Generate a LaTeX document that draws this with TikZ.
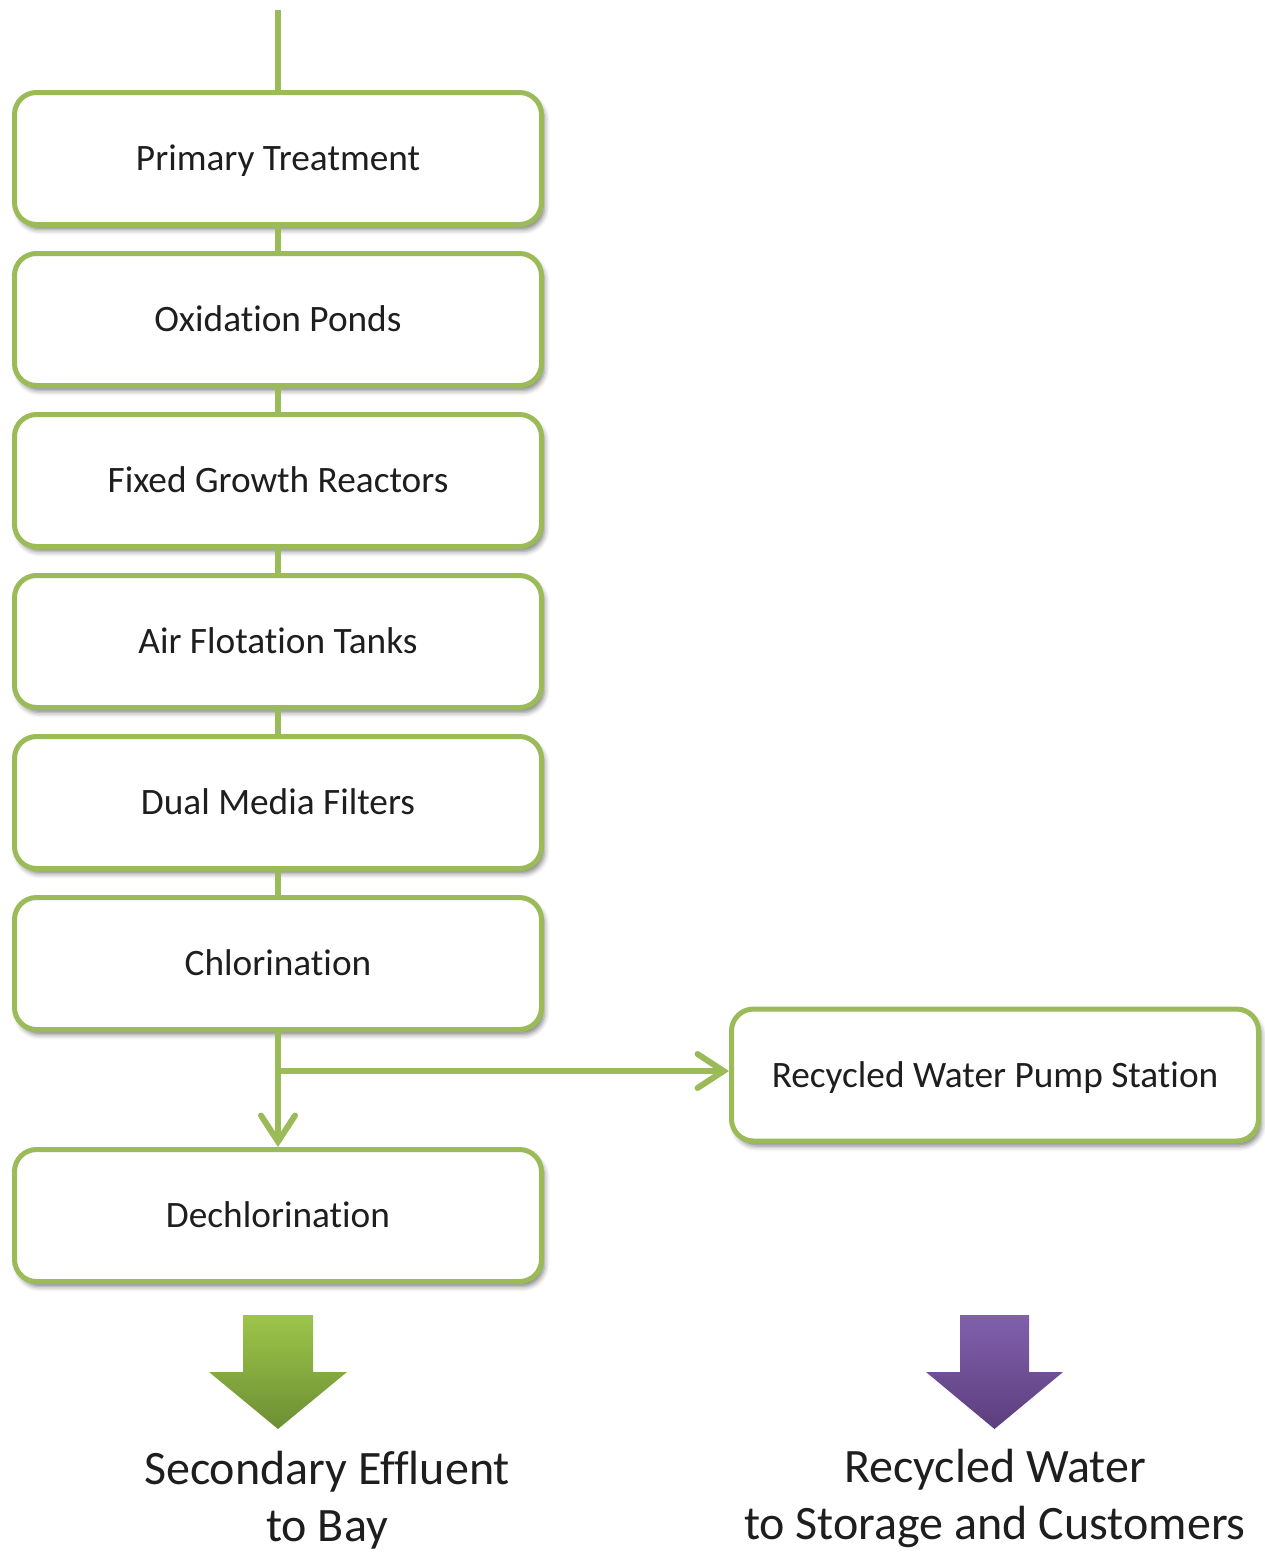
\documentclass[tikz,border=0pt]{standalone}
\usepackage{fontspec}
\setmainfont[Ligatures=NoCommon]{Carlito}
\usetikzlibrary{arrows.meta,shadows.blur}
\definecolor{leaf}{HTML}{9BBB59}
\definecolor{leafTop}{HTML}{9DC54A}
\definecolor{leafBot}{HTML}{6C8E34}
\definecolor{plumTop}{HTML}{8160AC}
\definecolor{plumBot}{HTML}{5C3E7E}
\definecolor{ink}{HTML}{1E1E1E}
\tikzset{
  stage/.style={draw=leaf, line width=5pt, fill=white, rounded corners=22pt,
    minimum width=527pt, minimum height=132pt, inner sep=0pt,
    text height=24pt, text depth=0pt,
    font=\fontsize{37.3}{40}\selectfont, text=ink,
    blur shadow={shadow xshift=3pt, shadow yshift=-5pt, shadow blur radius=5pt, shadow opacity=50}},
  pipe/.style={draw=leaf, line width=6pt},
  flow/.style={pipe, -{Straight Barb[length=26pt, width=34pt, line width=6pt, line cap=round]}},
  outlabel/.style={font=\fontsize{48}{57}\selectfont, text=ink, align=center}
}
\begin{document}
\begin{tikzpicture}[x=1pt, y=-1pt]
  \useasboundingbox (0,0) rectangle (1265,1553);

  % treatment stages
  \node[stage] (primary) at (278,158.5) {Primary Treatment};
  \node[stage] (oxid)    at (278,319.5) {Oxidation Ponds};
  \node[stage] (fixed)   at (278,480.5) {Fixed Growth Reactors};
  \node[stage] (air)     at (278,641.5) {Air Flotation Tanks};
  \node[stage] (dual)    at (278,802.5) {Dual Media Filters};
  \node[stage] (chlor)   at (278,963.5) {Chlorination};
  \node[stage] (dechlor) at (278,1215.5) {Dechlorination};
  \node[stage] (pump)    at (995,1075) {Recycled Water Pump Station};

  % influent line and connections between stages
  \coordinate (inlet) at (278,10);
  \draw[pipe] (inlet) -- (primary.north);
  \draw[pipe] (primary) -- (oxid);
  \draw[pipe] (oxid.south) -- (fixed.north);
  \draw[pipe] (fixed.south) -- (air.north);
  \draw[pipe] (air.south) -- (dual.north);
  \draw[pipe] (dual.south) -- (chlor.north);

  % split after chlorination
  \coordinate (split) at (278,1071);
  \draw[flow] (chlor.south) -- (dechlor.north);
  \draw[flow] (split) -- (split -| pump.west);

  % outlet arrows
  \shade[top color=leafTop, bottom color=leafBot]
    (243,1315) -- (313,1315) -- (313,1372) -- (347,1372) -- (278,1429)
    -- (209,1372) -- (243,1372) -- cycle;
  \shade[top color=plumTop, bottom color=plumBot]
    (960,1315) -- (1029,1315) -- (1029,1372) -- (1063,1372) -- (994.5,1429)
    -- (926,1372) -- (960,1372) -- cycle;

  \node[outlabel] (bay) at (327,1500) {Secondary Effluent\\to Bay};
  \node[outlabel] (customers) at (995,1498) {Recycled Water\\to Storage and Customers};
\end{tikzpicture}
\end{document}
